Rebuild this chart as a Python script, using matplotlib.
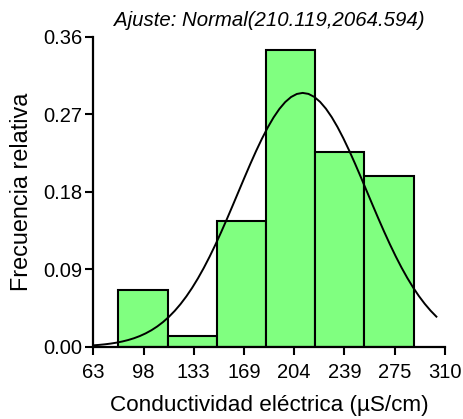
import numpy as np
import matplotlib
matplotlib.use("Agg")
import matplotlib.pyplot as plt

plt.rcParams['font.family'] = ['Liberation Sans', 'DejaVu Sans']

# Histogram of electrical conductivity (relative frequencies)
bin_edges = [80.56, 115.14, 149.72, 184.30, 218.88, 253.46, 288.04]
rel_freq = [0.066, 0.012, 0.146, 0.345, 0.226, 0.198]

# Normal fit parameters (mean, variance)
fit_mean = 210.119
fit_var = 2064.594
curve_scale = 33.6          # converts the density to relative frequency per class
curve_range = (63.0, 304.0)

x_ticks = [63, 98.29, 133.57, 168.86, 204.14, 239.43, 274.71, 310]
x_tick_labels = ["63", "98", "133", "169", "204", "239", "275", "310"]
y_ticks = [0.00, 0.09, 0.18, 0.27, 0.36]
y_tick_labels = ["0.00", "0.09", "0.18", "0.27", "0.36"]

fig = plt.figure(figsize=(4.63, 4.19), dpi=100)
ax = fig.add_axes([0.2015, 0.1726, 0.7595, 0.7391])

lefts = np.array(bin_edges[:-1])
widths = np.diff(bin_edges)
ax.bar(lefts, rel_freq, width=widths, align='edge', color='#80FF80',
       edgecolor='black', linewidth=1.5, zorder=2)

xs = np.linspace(curve_range[0], curve_range[1], 60)
sd = np.sqrt(fit_var)
ys = curve_scale * np.exp(-0.5 * ((xs - fit_mean) / sd) ** 2) / (sd * np.sqrt(2 * np.pi))
ax.plot(xs, ys, color='black', linewidth=1.4, zorder=3)

ax.set_xlim(63, 310)
ax.set_ylim(0, 0.36)
ax.set_xticks(x_ticks)
ax.set_xticklabels(x_tick_labels)
ax.set_yticks(y_ticks)
ax.set_yticklabels(y_tick_labels)

for side in ('top', 'right'):
    ax.spines[side].set_visible(False)
for side in ('left', 'bottom'):
    ax.spines[side].set_linewidth(1.6)
ax.tick_params(axis='both', direction='out', length=6, width=1.5,
               labelsize=14.5, colors='black')
ax.tick_params(axis='x', pad=6)
ax.tick_params(axis='y', pad=2)

ax.set_xlabel("Conductividad eléctrica (µS/cm)", fontsize=16.2, labelpad=9)
ax.set_ylabel("Frecuencia relativa", fontsize=16.8, labelpad=7)
ax.set_title("Ajuste: Normal(210.119,2064.594)", fontsize=14.7, style='italic', pad=8)

fig.savefig("out.png", dpi=100)
